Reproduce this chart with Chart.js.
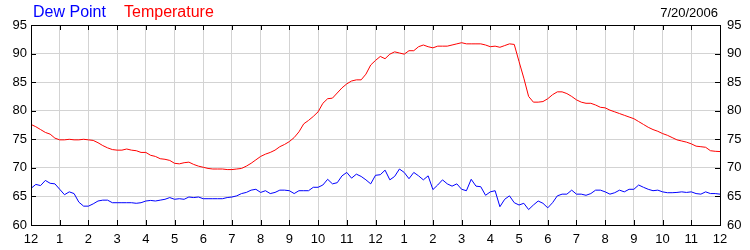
<!DOCTYPE html>
<html>
<head>
<meta charset="utf-8">
<script src="https://cdn.jsdelivr.net/npm/chart.js@4.4.1/dist/chart.umd.min.js"></script>
<style>
    body { margin: 0; background: #fff; }
    #wrap { position: relative; width: 750px; height: 250px; }
    .lbl { position: absolute; font-family: "Liberation Sans", Arial, sans-serif; white-space: nowrap; }
    #dew { left: 33px; top: 4px; font-size: 16px; line-height: 16px; color: #0000ff; }
    #temp { left: 124px; top: 4px; font-size: 16px; line-height: 16px; color: #ff0000; }
    #date { right: 32px; top: 6px; font-size: 13px; line-height: 13px; color: #000; }
</style>
</head>
<body>
<div id="wrap">
    <canvas id="weatherChart" width="750" height="250"></canvas>
    <div class="lbl" id="dew">Dew Point</div>
    <div class="lbl" id="temp">Temperature</div>
    <div class="lbl" id="date">7/20/2006</div>
</div>
<script>
// Readings every 10 minutes, midnight to midnight
var minutes = Array.from({ length: 145 }, function(_, i) { return i * 10; });

var hourLabels = ['12', '1', '2', '3', '4', '5', '6', '7', '8', '9', '10', '11',
                  '12', '1', '2', '3', '4', '5', '6', '7', '8', '9', '10', '11', '12'];

var yTicks = [60, 65, 70, 75, 80, 85, 90, 95];

var temperature = [
    77.6, 77.2, 76.7, 76.2, 75.9, 75.2,
    74.9, 74.9, 75.0, 74.9, 74.9, 75.0,
    74.9, 74.8, 74.4, 73.9, 73.5, 73.2,
    73.1, 73.1, 73.3, 73.1, 73.0, 72.7,
    72.7, 72.2, 72.0, 71.6, 71.5, 71.3,
    70.8, 70.7, 70.9, 71.0, 70.6, 70.3,
    70.1, 69.9, 69.8, 69.8, 69.8, 69.7,
    69.7, 69.8, 69.9, 70.3, 70.8, 71.4,
    72.0, 72.4, 72.7, 73.1, 73.7, 74.1,
    74.6, 75.3, 76.3, 77.7, 78.3, 79.0,
    79.8, 81.3, 82.1, 82.2, 83.1, 84.0,
    84.7, 85.2, 85.4, 85.4, 86.4, 88.0,
    88.8, 89.5, 89.1, 89.9, 90.3, 90.1,
    89.9, 90.5, 90.5, 91.2, 91.5, 91.2,
    91.0, 91.3, 91.3, 91.3, 91.5, 91.7,
    91.9, 91.7, 91.7, 91.7, 91.7, 91.5,
    91.2, 91.3, 91.1, 91.4, 91.7, 91.6,
    88.6, 85.7, 82.5, 81.5, 81.5, 81.6,
    82.1, 82.8, 83.3, 83.3, 83.0, 82.5,
    81.9, 81.5, 81.3, 81.3, 81.0, 80.6,
    80.5, 80.1, 79.8, 79.5, 79.2, 78.9,
    78.6, 78.1, 77.6, 77.1, 76.7, 76.4,
    76.0, 75.7, 75.3, 74.9, 74.7, 74.5,
    74.2, 73.8, 73.7, 73.6, 73.0, 72.9,
    72.85
];

var dewPoint = [
    66.4, 67.1, 66.9, 67.8, 67.3, 67.2,
    66.25, 65.3, 65.8, 65.5, 64.0, 63.3,
    63.3, 63.7, 64.2, 64.35, 64.35, 63.9,
    63.9, 63.9, 63.9, 63.9, 63.8, 63.9,
    64.2, 64.3, 64.2, 64.35, 64.5, 64.8,
    64.5, 64.6, 64.5, 64.9, 64.8, 64.9,
    64.6, 64.6, 64.6, 64.6, 64.6, 64.8,
    64.9, 65.1, 65.5, 65.7, 66.1, 66.25,
    65.7, 66.0, 65.5, 65.7, 66.1, 66.1,
    66.0, 65.5, 66.0, 66.0, 66.0, 66.6,
    66.6, 67.0, 68.0, 67.2, 67.4, 68.6,
    69.2, 68.2, 68.9, 68.5, 67.9, 67.2,
    68.7, 68.8, 69.6, 67.9, 68.5, 69.8,
    69.2, 68.1, 69.2, 68.6, 67.9, 68.6,
    66.2, 67.0, 67.9, 67.2, 66.8, 67.2,
    66.25, 66.0, 68.0, 66.8, 66.7, 65.2,
    65.8, 66.0, 63.2, 64.5, 65.1, 63.9,
    63.5, 63.8, 62.7, 63.5, 64.2, 63.8,
    63.0, 63.9, 65.1, 65.4, 65.4, 66.1,
    65.4, 65.4, 65.2, 65.5, 66.1, 66.1,
    65.8, 65.4, 65.65, 66.1, 65.8, 66.25,
    66.25, 67.0, 66.6, 66.25, 66.0, 66.1,
    65.8, 65.65, 65.65, 65.7, 65.8, 65.7,
    65.8, 65.5, 65.4, 65.8, 65.5, 65.5,
    65.4
];

// Pair times with values for the linear x axis
function toPoints(values) {
    return values.map(function(v, i) { return { x: minutes[i], y: v }; });
}

// Frame around plot area and tick marks pointing inward
var frameTicks = {
    id: 'frameTicks',
    afterDatasetsDraw: function(chart) {
        var ctx = chart.ctx;
        var a = chart.chartArea;
        var xs = chart.scales.x;
        var ys = chart.scales.y;
        var len = 5;
        ctx.save();
        ctx.strokeStyle = '#000';
        ctx.lineWidth = 1;
        ctx.beginPath();
        xs.ticks.forEach(function(t) {
            var px = Math.round(xs.getPixelForValue(t.value)) + 0.5;
            ctx.moveTo(px, a.top);
            ctx.lineTo(px, a.top + len);
            ctx.moveTo(px, a.bottom);
            ctx.lineTo(px, a.bottom - len);
        });
        ys.ticks.forEach(function(t) {
            var py = Math.round(ys.getPixelForValue(t.value)) + 0.5;
            ctx.moveTo(a.left, py);
            ctx.lineTo(a.left + len, py);
            ctx.moveTo(a.right, py);
            ctx.lineTo(a.right - len, py);
        });
        ctx.stroke();
        ctx.strokeRect(Math.round(a.left) + 0.5, Math.round(a.top) + 0.5,
                       Math.round(a.right - a.left), Math.round(a.bottom - a.top));
        ctx.restore();
    }
};

var tickFont = { family: '"Liberation Sans", Arial, sans-serif', size: 13 };

new Chart(document.getElementById('weatherChart').getContext('2d'), {
    type: 'line',
    data: {
        datasets: [
            {
                label: 'Temperature',
                data: toPoints(temperature),
                borderColor: '#ff0000',
                borderWidth: 1,
                pointRadius: 0,
                tension: 0,
                yAxisID: 'y'
            },
            {
                label: 'Dew Point',
                data: toPoints(dewPoint),
                borderColor: '#0000ff',
                borderWidth: 1,
                pointRadius: 0,
                tension: 0,
                yAxisID: 'y'
            }
        ]
    },
    options: {
        responsive: false,
        animation: false,
        layout: { padding: { top: 25, left: 0, right: 0, bottom: 0 } },
        plugins: {
            legend: { display: false },
            tooltip: { enabled: false }
        },
        scales: {
            x: {
                type: 'linear',
                min: 0,
                max: 1440,
                afterFit: function(scale) { scale.height = 25; },
                afterBuildTicks: function(scale) {
                    scale.ticks = hourLabels.map(function(_, i) { return { value: i * 60 }; });
                },
                ticks: {
                    autoSkip: false,
                    maxRotation: 0,
                    padding: 7,
                    color: '#000',
                    font: tickFont,
                    callback: function(value) { return hourLabels[value / 60]; }
                },
                grid: { color: '#d3d3d3', drawTicks: false },
                border: { display: false }
            },
            y: {
                position: 'left',
                min: 60,
                max: 95,
                afterFit: function(scale) { scale.width = 31; },
                afterBuildTicks: function(scale) {
                    scale.ticks = yTicks.map(function(v) { return { value: v }; });
                },
                ticks: { padding: 4, color: '#000', font: tickFont },
                grid: { color: '#d3d3d3', drawTicks: false },
                border: { display: false }
            },
            y2: {
                position: 'right',
                min: 60,
                max: 95,
                afterFit: function(scale) { scale.width = 30; },
                afterBuildTicks: function(scale) {
                    scale.ticks = yTicks.map(function(v) { return { value: v }; });
                },
                ticks: { padding: 7, color: '#000', font: tickFont },
                grid: { display: false, drawTicks: false },
                border: { display: false }
            }
        }
    },
    plugins: [frameTicks]
});
</script>
</body>
</html>
